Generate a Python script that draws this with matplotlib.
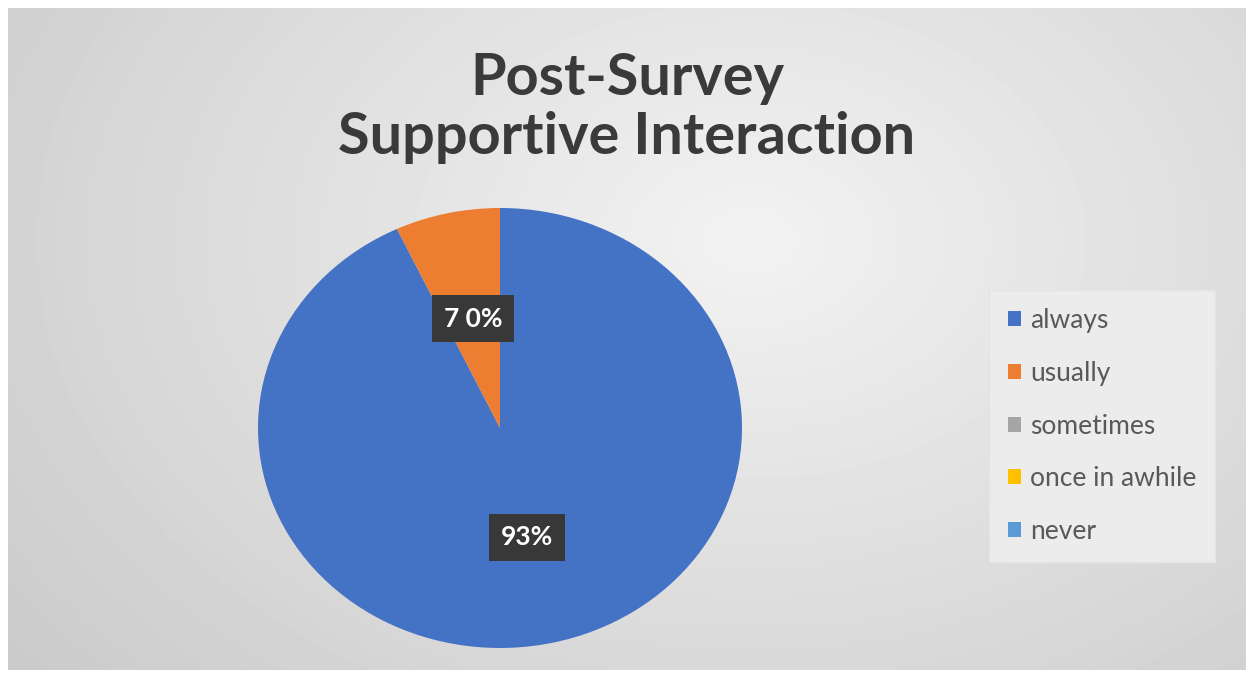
import numpy as np
import matplotlib.pyplot as plt
from matplotlib.patches import Patch

# Survey answers and their shares
categories = ['always', 'usually', 'sometimes', 'once in awhile', 'never']
shares = [93, 7, 0, 0, 0]
pct_labels = ['93%', '7 0%', '', '', '']
colors = ['#4472C4', '#ED7D31', '#A5A5A5', '#FFC000', '#5B9BD5']

W, H = 1246, 677
fig = plt.figure(figsize=(W / 100, H / 100), dpi=100)
fig.patch.set_facecolor('white')

# Gradient grey background panel
bg = fig.add_axes([8 / W, 7 / H, (W - 8) / W, (H - 15) / H])
yy, xx = np.mgrid[0:1:200j, 0:1:400j]
dist = np.sqrt(((xx - 0.6) * 1.2) ** 2 + ((yy - 0.35) * 0.9) ** 2)
shade = 0.95 - 0.17 * np.clip(dist, 0, 1)
bg.imshow(shade, cmap='gray', vmin=0, vmax=1, aspect='auto', extent=[0, 1, 0, 1])
bg.axis('off')

# Pie (stretched horizontally like the reference)
cx, cy, rx, ry = 500, 428, 242, 220
ax = fig.add_axes([(cx - rx) / W, (H - cy - ry) / H, 2 * rx / W, 2 * ry / H])
wedges, _ = ax.pie(shares, colors=colors, startangle=90, counterclock=False,
                   wedgeprops=dict(linewidth=0))
ax.set_aspect('auto')
ax.set_xlim(-1, 1)
ax.set_ylim(-1, 1)
ax.axis('off')

for w, lab in zip(wedges, pct_labels):
    if not lab:
        continue
    ang = np.deg2rad((w.theta1 + w.theta2) / 2)
    r = 0.51
    ax.text(r * np.cos(ang), r * np.sin(ang), lab, ha='center', va='center',
            color='white', fontsize=19, fontweight='bold', family='Lato',
            bbox=dict(boxstyle='square,pad=0.45', facecolor='#383838', edgecolor='none'))

fig.text(627 / W, 1 - 108 / H, 'Post-Survey\nSupportive Interaction', ha='center',
         va='center', fontsize=41.5, fontweight='bold', color='#3a3a3a',
         family='Lato', linespacing=1.12)

handles = [Patch(facecolor=c, edgecolor='none') for c in colors]
leg = fig.legend(handles, categories, loc='center left',
                 bbox_to_anchor=(997 / W, (H - 426) / H), frameon=True,
                 labelspacing=1.05, handlelength=0.5, handleheight=0.5,
                 handletextpad=0.35, borderpad=0.4, borderaxespad=0,
                 prop={'family': 'Lato', 'size': 19})
leg.get_frame().set_facecolor('#ececec')
leg.get_frame().set_edgecolor('#e4e4e4')
leg.get_frame().set_alpha(1)
leg.get_frame().set_boxstyle('square')
for t in leg.get_texts():
    t.set_color('#595959')

fig.savefig('out.png', dpi=100)
